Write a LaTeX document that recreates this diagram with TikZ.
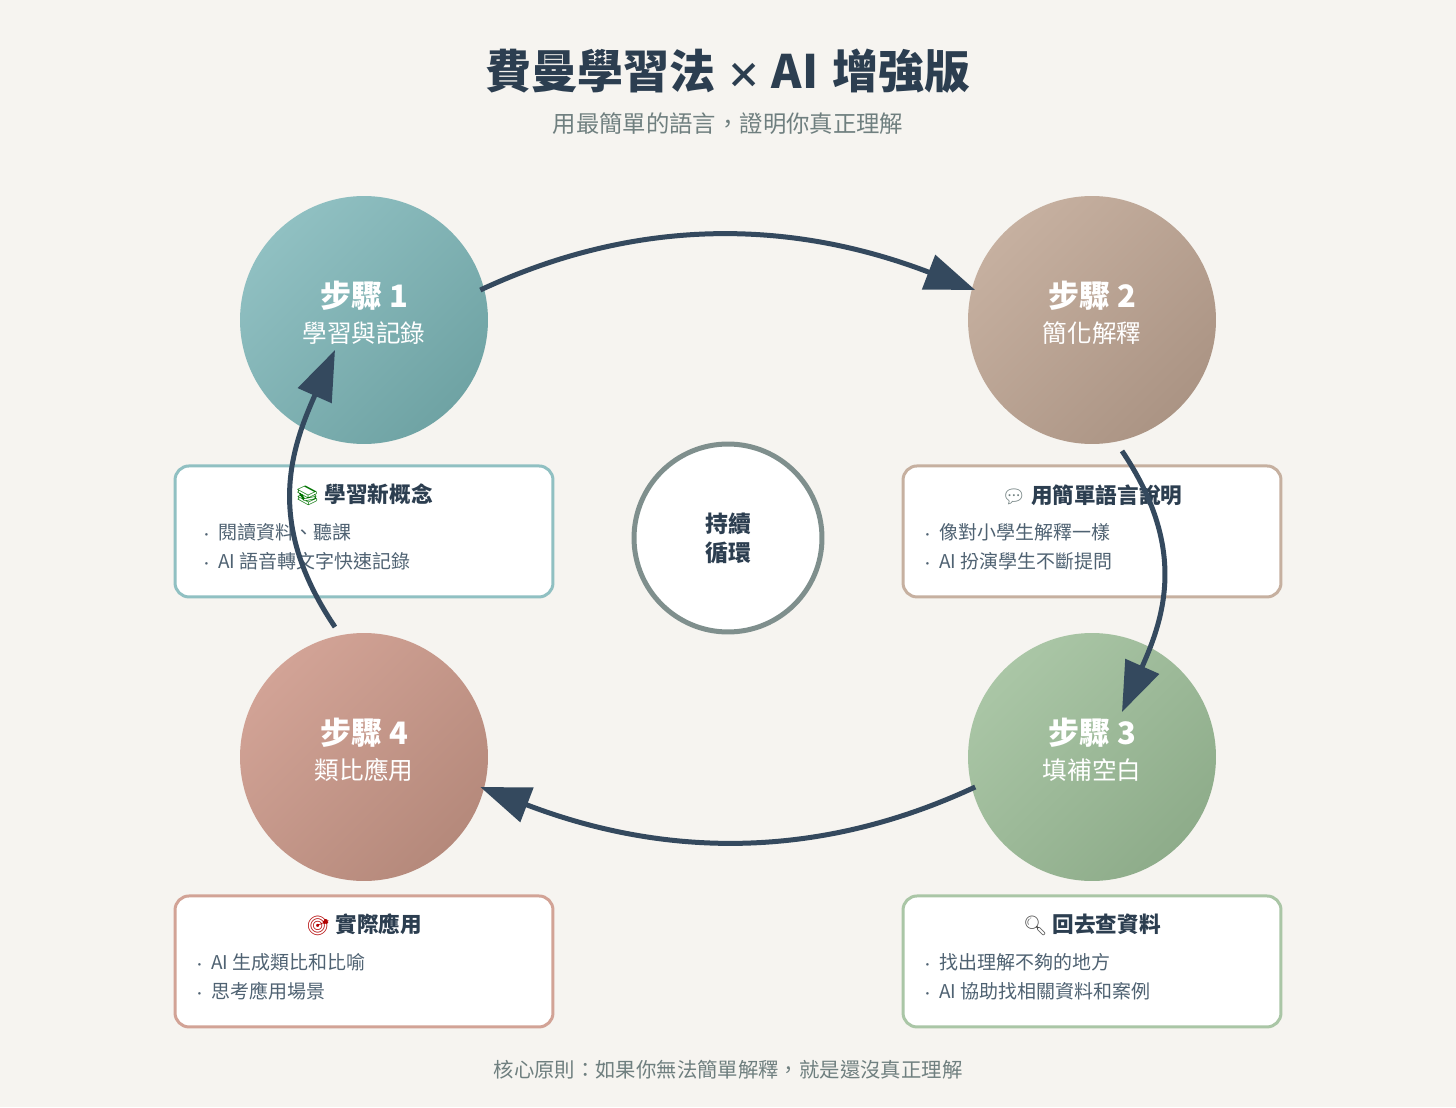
\documentclass[tikz,border=0pt]{standalone}
\usepackage{fontspec}
\usepackage{xcolor}
\setmainfont{Noto Sans CJK TC}
\newfontfamily\emojifont{Noto Emoji}
\usetikzlibrary{positioning, arrows.meta, shadings}
\definecolor{paper}{HTML}{f6f4f0}
\definecolor{navy}{HTML}{2c3e50}
\definecolor{flow}{HTML}{34495e}
\definecolor{muted}{HTML}{6f7f7f}
\definecolor{listtext}{HTML}{4f6272}
\definecolor{ring}{HTML}{7f8f8d}
\definecolor{tealA}{HTML}{90c0c2}
\definecolor{tealB}{HTML}{6fa3a4}
\definecolor{tanA}{HTML}{c6b0a0}
\definecolor{tanB}{HTML}{ab9484}
\definecolor{sageA}{HTML}{aac6a6}
\definecolor{sageB}{HTML}{8eac8a}
\definecolor{roseA}{HTML}{d2a396}
\definecolor{roseB}{HTML}{b5897b}
\newcommand{\emo}[2]{{\color{#1}\fontsize{11}{16}\selectfont\emojifont #2}}
\newcommand{\steptext}[2]{{\fontsize{17.6}{22}\selectfont\bfseries #1}\\[1pt]{#2}\rule[-9.5pt]{0pt}{1pt}}
\newcommand{\listdot}{\makebox[10.25pt][l]{\scriptsize •}}
\begin{document}
\begin{tikzpicture}[x=0.02cm,y=0.02cm,stepdot/.style 2 args={circle, minimum size=4.96cm, inner sep=0pt, outer sep=0pt, align=center, text=white, top color=#1, bottom color=#2, shading angle=45, font=\fontsize{14}{19}\selectfont},infobox/.style={draw, fill=white, rounded corners=0.28cm, line width=0.06cm, minimum width=7.56cm, minimum height=2.62cm, inner sep=0pt, outer sep=0pt},boxhead/.style={inner sep=0pt, text=navy, font=\fontsize{12.3}{16}\selectfont\bfseries},boxlist/.style={inner sep=0pt, anchor=west, align=left, text=listtext, font=\fontsize{10.8}{16.5}\selectfont},farrow/.style={-{Triangle[length=1cm, width=0.72cm]}, line width=0.1cm, color=flow, relative},wideflow/.style={farrow, out=25, in=159, out looseness=0.975, in looseness=0.94},tallflow/.style={farrow, out=34, in=156, out looseness=1.14, in looseness=1.04}]
\fill[paper] (0,0) rectangle (1456,1107);
\node[inner sep=0pt, text=navy, font=\fontsize{26.2}{32}\selectfont\bfseries] (title) at (728,1036) {費曼學習法\hspace{6pt}{\fontsize{20}{32}\selectfont ×}\hspace{6pt}AI\hspace{8pt}增強版};
\node[inner sep=0pt, text=muted, below=0.38cm of title, font=\fontsize{13.3}{17}\selectfont] (subtitle) {用最簡單的語言，證明你真正理解};
\node[stepdot={tealA}{tealB}] (learn) at (364,787) {\steptext{步驟 1}{學習與記錄}};
\node[stepdot={tanA}{tanB}] (explain) at (1092,787) {\steptext{步驟 2}{簡化解釋}};
\node[stepdot={sageA}{sageB}] (review) at (1092,350) {\steptext{步驟 3}{填補空白}};
\node[stepdot={roseA}{roseB}] (apply) at (364,350) {\steptext{步驟 4}{類比應用}};
\node[circle, draw=ring, fill=white, line width=0.1cm, minimum size=3.76cm, inner sep=0pt, align=center, text=navy, font=\fontsize{13}{16.5}\selectfont\bfseries] (loop) at (728,569) {持續\\循環};
\node[infobox, draw=tealA, below=0.44cm of learn] (learnbox) {};
\node[infobox, draw=tanA, below=0.44cm of explain] (explainbox) {};
\node[infobox, draw=sageA, below=0.3cm of review] (reviewbox) {};
\node[infobox, draw=roseA, below=0.3cm of apply] (applybox) {};
\node[boxhead, yshift=-0.58cm] (learnhead) at (learnbox.north) {\emo{green!45!black}{📚} 學習新概念};
\node[boxlist, xshift=0.5cm, yshift=-1.61cm] (learnlist) at (learnbox.north west) {\listdot 閱讀資料、聽課\\\listdot AI 語音轉文字快速記錄};
\node[boxhead, yshift=-0.58cm] (explainhead) at (explainbox.north) {\emo{muted}{💬} 用簡單語言說明};
\node[boxlist, xshift=0.36cm, yshift=-1.61cm] (explainlist) at (explainbox.north west) {\listdot 像對小學生解釋一樣\\\listdot AI 扮演學生不斷提問};
\node[boxhead, yshift=-0.58cm] (reviewhead) at (reviewbox.north) {\emo{black!70}{🔍} 回去查資料};
\node[boxlist, xshift=0.36cm, yshift=-1.61cm] (reviewlist) at (reviewbox.north west) {\listdot 找出理解不夠的地方\\\listdot AI 協助找相關資料和案例};
\node[boxhead, yshift=-0.58cm] (applyhead) at (applybox.north) {\emo{red!70!black}{🎯} 實際應用};
\node[boxlist, xshift=0.36cm, yshift=-1.61cm] (applylist) at (applybox.north west) {\listdot AI 生成類比和比喻\\\listdot 思考應用場景};
\node[inner sep=0pt, text=muted, font=\fontsize{11.6}{15}\selectfont] (motto) at (728,37) {核心原則：如果你無法簡單解釋，就是還沒真正理解};
\coordinate[below=0.14cm of explain.south, xshift=0.6cm] (explainout);
\coordinate[below=1.58cm of review.north, xshift=0.6cm] (reviewin);
\coordinate[above=0.12cm of apply.north, xshift=-0.58cm] (applyout);
\coordinate[above=1.88cm of learn.south, xshift=-0.58cm] (learnin);
\draw[wideflow] ([xshift=-0.08cm]learn.14) to ([xshift=0.07cm]explain.166);
\draw[tallflow] (explainout) to (reviewin);
\draw[wideflow] ([xshift=0.07cm]review.194) to ([xshift=-0.08cm]apply.-14);
\draw[tallflow] (applyout) to (learnin);
\end{tikzpicture}
\end{document}
